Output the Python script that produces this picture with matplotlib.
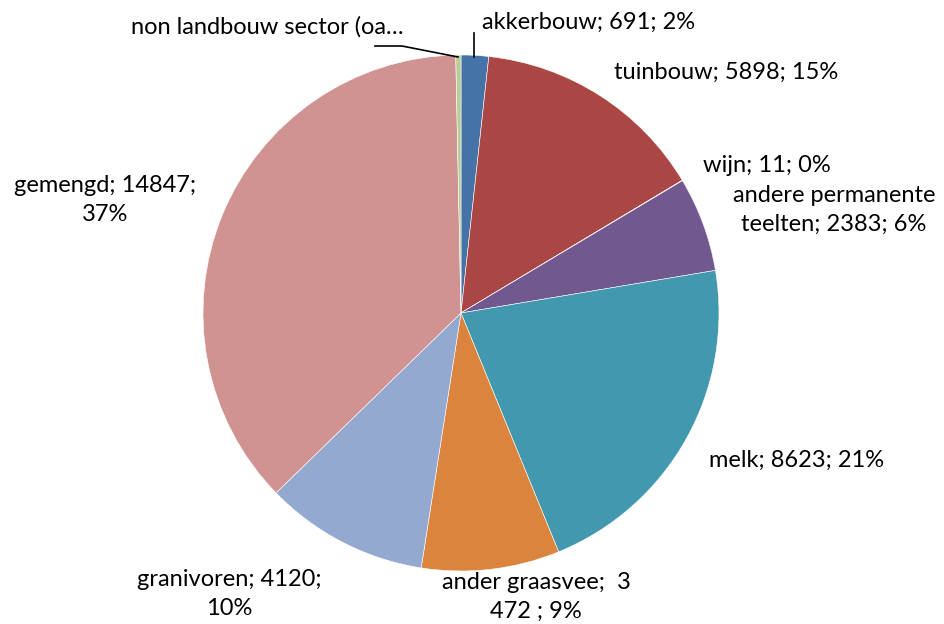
import matplotlib
matplotlib.use("Agg")
import matplotlib.pyplot as plt

categories = ["akkerbouw", "tuinbouw", "wijn", "andere permanente teelten", "melk",
              "ander graasvee", "granivoren", "gemengd", "non landbouw sector (oa…"]
values = [691, 5898, 11, 2383, 8623, 3472, 4120, 14847, 130]
label_texts = ["akkerbouw; 691; 2%", "tuinbouw; 5898; 15%", "wijn; 11; 0%",
               "andere permanente\nteelten; 2383; 6%", "melk; 8623; 21%",
               "ander graasvee;  3\n472 ; 9%", "granivoren; 4120;\n10%",
               "gemengd; 14847;\n37%", "non landbouw sector (oa…"]
colors = ["#4572A7", "#AA4643", "#89A54E", "#71588F", "#4198AF",
          "#DB843D", "#93A9CF", "#D19392", "#B9CD96"]

W, H = 944, 624
fig = plt.figure(figsize=(W / 100, H / 100), dpi=100)
ax = fig.add_axes([0, 0, 1, 1])

cx, cy, r = 461, 313, 258
# y axis is inverted below: startangle -90 = visual top, counterclock in data = clockwise on screen
wedges, _ = ax.pie(values, colors=colors, startangle=-90, counterclock=True,
                   center=(cx, cy), radius=r, frame=True,
                   wedgeprops=dict(edgecolor="white", linewidth=0.4))
ax.set_xlim(0, W)
ax.set_ylim(H, 0)
ax.set_aspect("equal")
ax.axis("off")

# label positions (centre of text block, pixel coords)
pos = [(589, 22), (726, 72), (767, 165), (834, 210), (797, 460),
       (536, 597), (229, 594), (105, 200), (267, 27)]
fs = 17
for (x, y), t in zip(pos, label_texts):
    ax.text(x, y, t, ha="center", va="center", multialignment="center",
            fontsize=fs, family="Lato", color="black", linespacing=1.42)

# leader lines
ax.plot([474, 474], [33, 57], color="black", lw=1.2)
ax.plot([375, 402, 458], [46, 46, 57], color="black", lw=1.2)

fig.savefig("out.png", dpi=100)
